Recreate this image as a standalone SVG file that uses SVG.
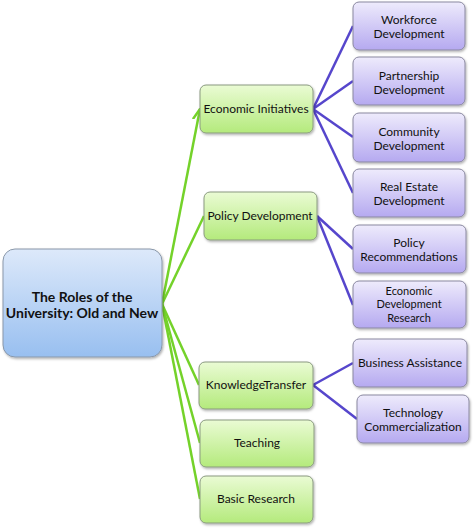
<svg xmlns="http://www.w3.org/2000/svg" width="473" height="529" viewBox="0 0 473 529">
<defs>
<linearGradient id="gGreen" x1="0" y1="0" x2="0" y2="1">
<stop offset="0" stop-color="#eafbd4"/><stop offset="1" stop-color="#b4ea7c"/>
</linearGradient>
<linearGradient id="gPurple" x1="0" y1="0" x2="0" y2="1">
<stop offset="0" stop-color="#eeebfc"/><stop offset="1" stop-color="#b5a9f0"/>
</linearGradient>
<linearGradient id="gBlue" x1="0" y1="0" x2="0" y2="1">
<stop offset="0" stop-color="#dde9fa"/><stop offset="1" stop-color="#98bff0"/>
</linearGradient>
<filter id="sh" x="-10%" y="-10%" width="130%" height="130%">
<feDropShadow dx="1" dy="1.5" stdDeviation="1.2" flood-color="#000" flood-opacity="0.3"/>
</filter>
<marker id="arr" viewBox="0 0 10 10" refX="9" refY="5" markerWidth="5" markerHeight="5" orient="auto" markerUnits="strokeWidth">
<path d="M0,1 L9,5 L0,9" fill="none" stroke="#74d22a" stroke-width="2"/>
</marker>
</defs>
<style>
.g{fill:url(#gGreen);stroke:#8a9a80;stroke-width:1;filter:url(#sh)}
.p{fill:url(#gPurple);stroke:#8a88a0;stroke-width:1;filter:url(#sh)}
.b{fill:url(#gBlue);stroke:#8a98aa;stroke-width:1;filter:url(#sh)}
text{font-family:Lato,"Liberation Sans",sans-serif;font-size:12px;fill:#111;text-anchor:middle}
.root{font-weight:bold;font-size:14px}
.sm{font-size:11px}
.gl{stroke:#74d22a;stroke-width:2.5;fill:none}
.pl{stroke:#5646cc;stroke-width:2.5;fill:none}
</style>
<g id="connectors">
<line class="gl" x1="162" y1="304" x2="200" y2="109" marker-end="url(#arr)"/>
<line class="gl" x1="162" y1="304" x2="204" y2="216"/>
<line class="gl" x1="162" y1="304" x2="199" y2="385"/>
<line class="gl" x1="162" y1="304" x2="200" y2="443"/>
<line class="gl" x1="162" y1="304" x2="200" y2="499"/>
<line class="pl" x1="313" y1="109" x2="353" y2="26"/>
<line class="pl" x1="313" y1="109" x2="353" y2="81"/>
<line class="pl" x1="313" y1="109" x2="353" y2="137"/>
<line class="pl" x1="313" y1="109" x2="353" y2="193"/>
<line class="pl" x1="317" y1="216" x2="353" y2="249"/>
<line class="pl" x1="317" y1="216" x2="353" y2="305"/>
<line class="pl" x1="313" y1="385" x2="353" y2="363"/>
<line class="pl" x1="313" y1="385" x2="357" y2="419"/>
</g>
<g id="root"><rect class="b" x="3" y="249" width="159" height="108" rx="12"/>
<text class="root" x="82" y="302">The Roles of the</text><text class="root" x="82" y="318">University: Old and New</text></g>
<g id="economic-initiatives"><rect class="g" x="200" y="85" width="113" height="48" rx="6"/><text x="256" y="113">Economic Initiatives</text></g>
<g id="policy-development"><rect class="g" x="204" y="192" width="113" height="48" rx="6"/><text x="260" y="220">Policy Development</text></g>
<g id="knowledge-transfer"><rect class="g" x="199" y="362" width="114" height="47" rx="6"/><text x="256" y="389">KnowledgeTransfer</text></g>
<g id="teaching"><rect class="g" x="200" y="420" width="114" height="47" rx="6"/><text x="257" y="447">Teaching</text></g>
<g id="basic-research"><rect class="g" x="200" y="476" width="113" height="47" rx="6"/><text x="256" y="503">Basic Research</text></g>
<g id="workforce"><rect class="p" x="353" y="2" width="112" height="48" rx="6"/><text x="409" y="24">Workforce</text><text x="409" y="38">Development</text></g>
<g id="partnership"><rect class="p" x="353" y="57" width="112" height="48" rx="6"/><text x="409" y="80">Partnership</text><text x="409" y="94">Development</text></g>
<g id="community"><rect class="p" x="353" y="113" width="112" height="49" rx="6"/><text x="409" y="136">Community</text><text x="409" y="150">Development</text></g>
<g id="real-estate"><rect class="p" x="353" y="169" width="112" height="48" rx="6"/><text x="409" y="191">Real Estate</text><text x="409" y="205">Development</text></g>
<g id="policy-recommendations"><rect class="p" x="353" y="225" width="113" height="48" rx="6"/><text x="409" y="247">Policy</text><text x="409" y="261">Recommendations</text></g>
<g id="econ-dev-research"><rect class="p" x="353" y="281" width="113" height="47" rx="6"/><text class="sm" x="409" y="294.5">Economic</text><text class="sm" x="409" y="308">Development</text><text class="sm" x="409" y="321.5">Research</text></g>
<g id="business-assistance"><rect class="p" x="353" y="339" width="114" height="48" rx="6"/><text x="410" y="367">Business Assistance</text></g>
<g id="tech-commercialization"><rect class="p" x="357" y="395" width="112" height="48" rx="6"/><text x="413" y="417">Technology</text><text x="413" y="431">Commercialization</text></g>
</svg>
